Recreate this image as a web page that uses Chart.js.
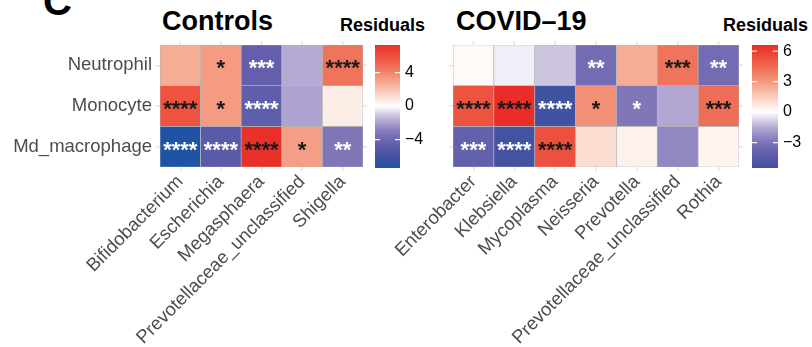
<!DOCTYPE html>
<html>
<head>
<meta charset="utf-8">
<script src="https://cdn.jsdelivr.net/npm/chart.js@4.4.0/dist/chart.umd.min.js"></script>
<style>
    html, body { margin: 0; padding: 0; background: #fff; }
    body { width: 812px; height: 347px; position: relative; overflow: hidden; font-family: 'Liberation Sans', Arial, sans-serif; }
    .box { position: absolute; }
    .txt { position: absolute; font-weight: bold; color: #000; line-height: 1; white-space: nowrap; }
</style>
</head>
<body>
<div class="txt" style="left:43px; top:-19px; font-size:40px;">C</div>
<div class="txt" style="left:162px; top:8px; font-size:27px;">Controls</div>
<div class="txt" style="left:456px; top:8px; font-size:27px;">COVID–19</div>
<div class="txt" style="left:340px; top:15.5px; font-size:18px;">Residuals</div>
<div class="txt" style="left:723px; top:15.5px; font-size:18px;">Residuals</div>

<div class="box" style="left:0; top:40px; width:370px; height:307px;"><canvas id="ctrlMap"></canvas></div>
<div class="box" style="left:370px; top:40px; width:70px; height:135px;"><canvas id="ctrlLegend"></canvas></div>
<div class="box" style="left:370px; top:40px; width:375px; height:307px;"><canvas id="covidMap"></canvas></div>
<div class="box" style="left:745px; top:40px; width:67px; height:135px;"><canvas id="covidLegend"></canvas></div>

<script>
// Rows of both heatmaps (top to bottom)
const cellTypes = ['Neutrophil', 'Monocyte', 'Md_macrophage'];

// Controls panel
const ctrlGenera = ['Bifidobacterium', 'Escherichia', 'Megasphaera', 'Prevotellaceae_unclassified', 'Shigella'];
const ctrlNeutrophil = [2.7, 3.3, -4.5, -1.7, 4.6];
const ctrlMonocyte = [5.9, 3.3, -4.7, -1.9, 0.6];
const ctrlMacrophage = [-7.4, -5.0, 7.3, 3.2, -3.3];
const ctrlNeutrophilStars = ['', '*', '***', '', '****'];
const ctrlMonocyteStars = ['****', '*', '****', '', ''];
const ctrlMacrophageStars = ['****', '****', '****', '*', '**'];
const ctrlLegendRange = [-7.4, 7.3];
const ctrlLegendTicks = [-4, 0, 4];

// COVID-19 panel
const covidGenera = ['Enterobacter', 'Klebsiella', 'Mycoplasma', 'Neisseria', 'Prevotella', 'Prevotellaceae_unclassified', 'Rothia'];
const covidNeutrophil = [0.15, -0.3, -1.0, -3.4, 2.4, 4.1, -3.4];
const covidMonocyte = [5.2, 6.6, -5.5, 3.3, -2.9, -1.6, 4.3];
const covidMacrophage = [-4.0, -5.4, 5.3, 1.0, 0.4, -2.4, 0.35];
const covidNeutrophilStars = ['', '', '', '**', '', '***', '**'];
const covidMonocyteStars = ['****', '****', '****', '*', '*', '', '***'];
const covidMacrophageStars = ['***', '****', '****', '', '', '', ''];
const covidLegendRange = [-5.5, 6.6];
const covidLegendTicks = [-3, 0, 3, 6];

Chart.defaults.font.family = "'Liberation Sans', Arial, sans-serif";

// blue - white - red palette, s runs from -1 to 1
const paletteStops = [
    [-1.0, [31, 83, 166]],
    [-0.8, [72, 82, 162]],
    [-0.6, [100, 96, 172]],
    [-0.4, [135, 125, 188]],
    [-0.2, [190, 178, 216]],
    [0.0, [255, 255, 255]],
    [0.2, [250, 210, 196]],
    [0.4, [245, 165, 140]],
    [0.6, [240, 120, 95]],
    [0.8, [237, 82, 62]],
    [1.0, [233, 45, 40]]
];

function residualColor(v, maxAbs) {
    const s = Math.max(-1, Math.min(1, v / maxAbs));
    for (let k = 0; k < paletteStops.length - 1; k++) {
        const [s0, c0] = paletteStops[k];
        const [s1, c1] = paletteStops[k + 1];
        if (s >= s0 && s <= s1) {
            const t = (s - s0) / (s1 - s0);
            const c = c0.map((ch, n) => Math.round(ch + (c1[n] - ch) * t));
            return `rgb(${c[0]}, ${c[1]}, ${c[2]})`;
        }
    }
    return '#ffffff';
}

// significance stars on the cells
const starPlugin = {
    id: 'stars',
    afterDatasetsDraw(chart) {
        const ctx = chart.ctx;
        ctx.save();
        ctx.font = "bold 22px 'Liberation Sans', Arial, sans-serif";
        ctx.textAlign = 'center';
        ctx.textBaseline = 'middle';
        chart.data.datasets.forEach((ds, i) => {
            chart.getDatasetMeta(i).data.forEach((bar, j) => {
                const s = ds.stars[j];
                if (!s) return;
                const c = bar.getCenterPoint();
                ctx.fillStyle = ds.values[j] < 0 ? '#ffffff' : '#1a1a1a';
                ctx.fillText(s, c.x, c.y + 4);
            });
        });
        ctx.restore();
    }
};

// little grid stubs above and right of the panel
const stubPlugin = {
    id: 'stubs',
    afterDraw(chart) {
        const { ctx, chartArea: a, scales: { x, y } } = chart;
        ctx.save();
        ctx.strokeStyle = '#e4e4e4';
        ctx.lineWidth = 1.5;
        ctx.beginPath();
        x.ticks.forEach((t, k) => {
            const px = x.getPixelForTick(k);
            ctx.moveTo(px, a.top - 4);
            ctx.lineTo(px, a.top);
        });
        y.ticks.forEach((t, k) => {
            const py = y.getPixelForTick(k);
            ctx.moveTo(a.right, py);
            ctx.lineTo(a.right + 4, py);
        });
        ctx.stroke();
        ctx.restore();
    }
};

function drawHeatmap(id, genera, rowValues, rowStars, maxAbs, yWidth, rightPad, showRowLabels) {
    const datasets = rowValues.map((vals, i) => ({
        label: cellTypes[i],
        data: vals.map(() => [2 - i, 3 - i]),
        values: vals,
        stars: rowStars[i],
        backgroundColor: vals.map(v => residualColor(v, maxAbs)),
        borderColor: '#b4b4b4',
        borderWidth: 0.7,
        borderSkipped: false,
        categoryPercentage: 1,
        barPercentage: 1,
        grouped: false
    }));

    new Chart(document.getElementById(id), {
        type: 'bar',
        data: { labels: genera, datasets: datasets },
        options: {
            responsive: true,
            maintainAspectRatio: false,
            animation: false,
            layout: { padding: { top: 5, right: rightPad, left: 0, bottom: 0 } },
            plugins: { legend: { display: false }, tooltip: { enabled: false } },
            scales: {
                x: {
                    offset: true,
                    afterFit: s => { s.height = 180; s.paddingLeft = 0; s.paddingRight = 0; },
                    border: { display: false },
                    grid: { offset: false, color: '#ebebeb', tickColor: '#e4e4e4', tickLength: 4, lineWidth: 1.5 },
                    ticks: { color: '#4d4d4d', font: { size: 18.5 }, padding: 0, minRotation: 45, maxRotation: 45, autoSkip: false }
                },
                y: {
                    min: 0,
                    max: 3,
                    afterBuildTicks: s => { s.ticks = [0.5, 1.5, 2.5].map(v => ({ value: v })); },
                    afterFit: s => { s.width = yWidth; s.paddingTop = 0; s.paddingBottom = 0; },
                    border: { display: false },
                    grid: { color: '#ebebeb', tickColor: '#e4e4e4', tickLength: 4, lineWidth: 1.5 },
                    ticks: {
                        display: showRowLabels,
                        color: '#4d4d4d',
                        font: { size: 18.5 },
                        padding: 4,
                        callback: v => cellTypes[Math.round(2.5 - v)]
                    }
                }
            }
        },
        plugins: [starPlugin, stubPlugin]
    });
}

// white tick marks across the colour bar
const legendTickPlugin = {
    id: 'legendTicks',
    afterDatasetsDraw(chart) {
        const { ctx, chartArea: a, scales: { y } } = chart;
        ctx.save();
        ctx.strokeStyle = 'rgba(255,255,255,0.9)';
        ctx.lineWidth = 1.2;
        ctx.beginPath();
        y.ticks.forEach(t => {
            const py = y.getPixelForValue(t.value);
            ctx.moveTo(a.left, py);
            ctx.lineTo(a.left + 5, py);
            ctx.moveTo(a.right - 5, py);
            ctx.lineTo(a.right, py);
        });
        ctx.stroke();
        ctx.restore();
    }
};

function drawLegend(id, range, ticks, padLeft, axisWidth) {
    const maxAbs = Math.max(Math.abs(range[0]), Math.abs(range[1]));
    new Chart(document.getElementById(id), {
        type: 'bar',
        data: {
            labels: ['Residuals'],
            datasets: [{
                data: [range],
                borderWidth: 0,
                categoryPercentage: 1,
                barPercentage: 1,
                backgroundColor: c => {
                    const chart = c.chart;
                    const ys = chart.scales.y;
                    if (!chart.chartArea || !ys) return '#ffffff';
                    const top = ys.getPixelForValue(range[1]);
                    const bottom = ys.getPixelForValue(range[0]);
                    const g = chart.ctx.createLinearGradient(0, top, 0, bottom);
                    const n = 60;
                    for (let k = 0; k <= n; k++) {
                        const v = range[1] - (range[1] - range[0]) * k / n;
                        g.addColorStop(k / n, residualColor(v, maxAbs));
                    }
                    return g;
                }
            }]
        },
        options: {
            responsive: true,
            maintainAspectRatio: false,
            animation: false,
            layout: { padding: { top: 5, left: padLeft, bottom: 7, right: 0 } },
            plugins: { legend: { display: false }, tooltip: { enabled: false } },
            scales: {
                x: { display: false },
                y: {
                    position: 'right',
                    min: range[0],
                    max: range[1],
                    afterBuildTicks: s => { s.ticks = ticks.map(v => ({ value: v })); },
                    afterFit: s => { s.width = axisWidth; s.paddingTop = 0; s.paddingBottom = 0; },
                    border: { display: false },
                    grid: { display: false, drawTicks: false },
                    ticks: {
                        color: '#000',
                        font: { size: 16 },
                        padding: 5,
                        callback: v => v < 0 ? '\u2212' + Math.abs(v) : String(v)
                    }
                }
            }
        },
        plugins: [legendTickPlugin]
    });
}

const ctrlMax = Math.max(Math.abs(ctrlLegendRange[0]), Math.abs(ctrlLegendRange[1]));
const covidMax = Math.max(Math.abs(covidLegendRange[0]), Math.abs(covidLegendRange[1]));

drawHeatmap('ctrlMap', ctrlGenera,
    [ctrlNeutrophil, ctrlMonocyte, ctrlMacrophage],
    [ctrlNeutrophilStars, ctrlMonocyteStars, ctrlMacrophageStars],
    ctrlMax, 160, 7, true);

drawHeatmap('covidMap', covidGenera,
    [covidNeutrophil, covidMonocyte, covidMacrophage],
    [covidNeutrophilStars, covidMonocyteStars, covidMacrophageStars],
    covidMax, 83, 6, false);

drawLegend('ctrlLegend', ctrlLegendRange, ctrlLegendTicks, 5, 40);
drawLegend('covidLegend', covidLegendRange, covidLegendTicks, 7, 34);
</script>
</body>
</html>
